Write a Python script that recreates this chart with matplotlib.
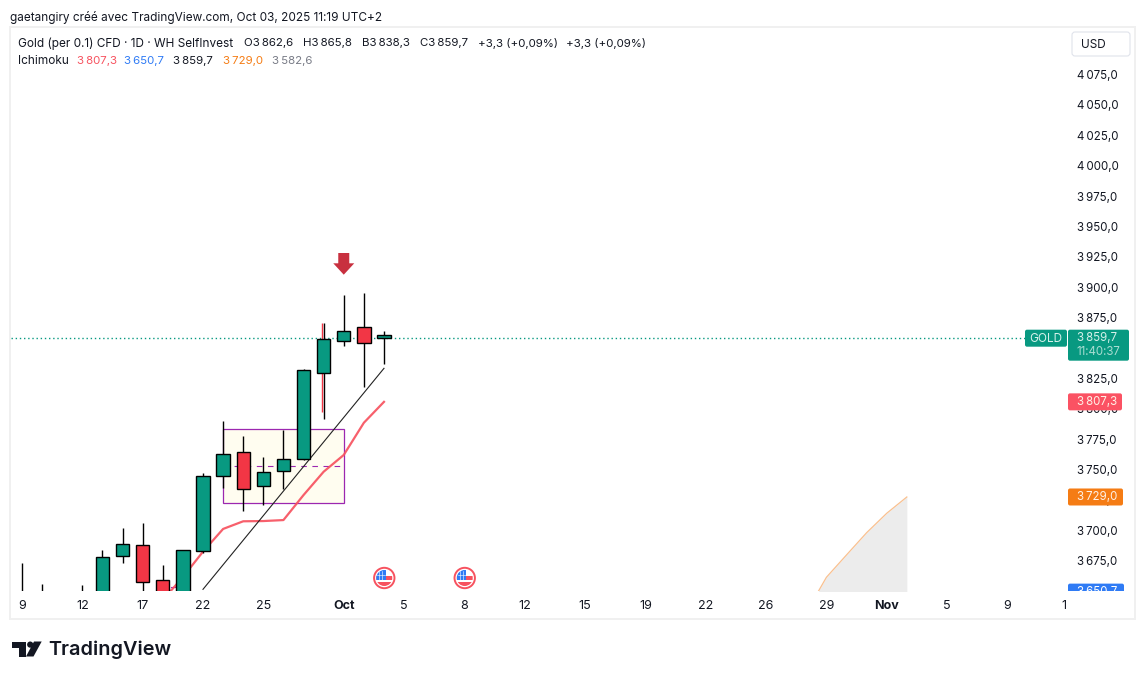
import matplotlib
matplotlib.use("Agg")
import matplotlib.pyplot as plt
from matplotlib.patches import Rectangle, Circle, Polygon, FancyBboxPatch
from matplotlib.transforms import ScaledTranslation

plt.rcParams['font.family'] = ['Inter', 'DejaVu Sans']

WIDTH, HEIGHT = 1145, 679
GREEN = "#089981"
RED = "#f23645"
SOFT_RED = "#f7525f"
ORANGE = "#f57c14"
BLUE = "#2f7bf5"
PURPLE = "#9c27b0"
INK = "#131722"
FONT = 8.5

# daily candles, 9 Sep to 3 Oct (the first ones sit mostly below the visible range)
bar_index = list(range(19))
opens = [3628, 3640, 3632, 3640, 3645, 3680.2, 3689.4, 3660.4, 3640, 3684.8,
         3746, 3765.8, 3738.3, 3750.1, 3760.3, 3830.8, 3857.6, 3868.6, 3859.7]
closes = [3640, 3632, 3640, 3645, 3679.4, 3690, 3659.4, 3640, 3685.1, 3746,
          3764.1, 3735.8, 3749.3, 3760, 3833.3, 3859, 3865.3, 3856, 3862.6]
highs = [3674.4, 3657.4, 3648, 3656.6, 3685.4, 3703.3, 3707.3, 3673, 3685.1, 3748.7,
         3791.3, 3779.3, 3761.9, 3784.3, 3834.3, 3871.9, 3895.3, 3896.9, 3865.8]
lows = [3620, 3620, 3625, 3630, 3640, 3674.3, 3645, 3635, 3635, 3683.3,
        3736.3, 3717.3, 3722.3, 3735.3, 3759.3, 3793.3, 3853.3, 3819.8, 3838.3]

# ichimoku conversion line
conv_index = [7, 8, 9, 10, 11, 12, 13, 14, 15, 16, 17, 18]
conv_values = [3644.2, 3663.1, 3684, 3702.7, 3709, 3709.2, 3710, 3730.6, 3749.8,
               3763.6, 3790.1, 3807.3]

# leading span A, 26 bars ahead, and the flat span B under it
span_index = [39, 40, 41, 42, 43, 44]
span_a = [3634, 3662.9, 3681.3, 3699.6, 3715.6, 3729.0]
span_b = 3582.6

# drawings on the chart
trend_index = [9, 18]
trend_values = [3653, 3834.9]
box_index = [10, 16]
box_prices = [3723.8, 3784.7]
arrow_index = 16
event_index = [18, 22]

last_price = 3859.7
conv_last = 3807.3
kijun_last = 3650.7
lead_last = 3729.0

# 3 850,0 is left out, it is fully under the last price tag
y_ticks = [3675, 3700, 3725, 3750, 3775, 3800, 3825, 3875, 3900, 3925, 3950, 3975,
           4000, 4025, 4050, 4075]
x_ticks = [0, 3, 6, 9, 12, 16, 19, 22, 25, 28, 31, 34, 37, 40, 43, 46, 49, 51.8]
x_labels = ["9", "12", "17", "22", "25", "Oct", "5", "8", "12", "15", "19", "22",
            "26", "29", "Nov", "5", "9", "1"]


def fmt_price(value):
    text = f"{value:,.1f}"
    return text.replace(",", "\u202f").replace(".", ",")


def draw_candles(ax):
    for i in bar_index:
        ax.vlines(i, lows[i], highs[i], color="black", lw=1.0, zorder=4)
    ax.vlines(14.93, 3799, highs[15], color=RED, lw=1.0, zorder=3.5)
    bottoms = [min(o, c) for o, c in zip(opens, closes)]
    heights = [abs(o - c) for o, c in zip(opens, closes)]
    # last bar is drawn green in the picture, as the day is up on the previous close
    colors = [GREEN if c >= o else RED for o, c in zip(opens, closes)]
    ax.bar(bar_index, heights, bottom=bottoms, width=0.66, color=colors,
           edgecolor="black", linewidth=1.0, zorder=5)


def draw_flag(over, x, y):
    over.add_patch(Circle((x, y), 10.2, fc="white", ec=SOFT_RED, lw=1.4))
    inner = Circle((x, y), 8.0, fc="white", ec="none")
    over.add_patch(inner)
    parts = [Rectangle((x - 9, y - 2.5), 18, 4.5, fc=SOFT_RED, ec="none"),
             Rectangle((x - 9, y + 4), 18, 5, fc=SOFT_RED, ec="none"),
             Rectangle((x - 8, y - 9), 9.5, 11, fc=BLUE, ec="none")]
    for part in parts:
        over.add_patch(part)
        part.set_clip_path(inner)
    for gx in (-5, -2):
        over.plot([x + gx] * 2, [y - 7, y + 1.5], color="white", lw=0.4)
    over.plot([x - 7, x + 1], [y - 3, y - 3], color="white", lw=0.4)


def draw_logo(over):
    over.add_patch(Polygon([(12, 641.5), (26, 641.5), (26, 656.5), (19, 656.5),
                            (19, 648), (12, 648)], fc=INK, ec="none"))
    over.add_patch(Circle((30.2, 644.6), 3.1, fc=INK, ec="none"))
    over.add_patch(Polygon([(34, 641.5), (41.7, 641.5), (33.5, 656.5), (26, 656.5)],
                           fc=INK, ec="none"))
    over.text(48.5, 650, "TradingView", fontsize=14.3, fontweight=600, color=INK,
              va="center", ha="left")


def main():
    fig = plt.figure(figsize=(WIDTH / 100, HEIGHT / 100), dpi=100, facecolor="white")
    left, right, top, bottom = 11, 1068, 28, 591
    ax = fig.add_axes([left / WIDTH, 1 - bottom / HEIGHT, (right - left) / WIDTH,
                       (bottom - top) / HEIGHT])
    ax.set_xlim((left - 22) / 20.11, (right - 22) / 20.11)
    ax.set_ylim(3675 + (562.6 - bottom) / 1.215, 3675 + (562.6 - top) / 1.215)
    for spine in ax.spines.values():
        spine.set_visible(False)
    ax.yaxis.tick_right()
    ax.set_yticks(y_ticks, [fmt_price(v) for v in y_ticks])
    ax.set_xticks(x_ticks, x_labels)
    ax.tick_params(axis="y", length=0, pad=6.5, labelsize=8.3, labelcolor=INK)
    ax.tick_params(axis="x", length=0, pad=6.5, labelsize=9, labelcolor=INK)
    # the scale labels sit a little above their price level
    nudge = ScaledTranslation(0, 1.5 / 72, fig.dpi_scale_trans)
    for label in ax.get_yticklabels():
        label.set_transform(label.get_transform() + nudge)
    for label in ax.get_xticklabels():
        if label.get_text() in ("Oct", "Nov"):
            label.set_fontweight("bold")

    # cloud
    ax.fill_between(span_index, span_a, span_b, color="#ececec", lw=0, zorder=1)
    ax.plot(span_index, span_a, color="#f9c08f", lw=0.9, zorder=1.5)

    # consolidation box with its dashed middle
    ax.add_patch(Rectangle((box_index[0], box_prices[0]), box_index[1] - box_index[0],
                           box_prices[1] - box_prices[0], fc="#fffdf0", ec=PURPLE,
                           lw=0.9, zorder=2))
    ax.plot(box_index, [sum(box_prices) / 2] * 2, color=PURPLE, lw=0.8,
            dashes=(5, 5), zorder=2.1)
    ax.plot([7.4, 7.65], [3655.2, 3655.2], color=PURPLE, lw=0.8, zorder=2.1)

    ax.plot(conv_index, conv_values, color=SOFT_RED, lw=1.6, alpha=0.92, zorder=3)
    ax.plot(trend_index, trend_values, color="#222222", lw=0.8, zorder=3.2)
    draw_candles(ax)

    ax.plot([ax.get_xlim()[0], (1025 - 22) / 20.11], [last_price] * 2, color=GREEN,
            lw=1.0, dashes=(1, 2), zorder=2)

    # everything around the chart goes on a pixel overlay
    over = fig.add_axes([0, 0, 1, 1], facecolor="none")
    over.set_xlim(0, WIDTH)
    over.set_ylim(HEIGHT, 0)
    over.axis("off")

    def px(index, price):
        x, y = ax.transData.transform((index, price))
        return x, HEIGHT - y

    over.add_patch(Rectangle((10, 27), 1125, 592, fc="none", ec="#f0f0f0", lw=1.4))

    # down arrow above the 1 Oct candle
    ax_x, _ = px(arrow_index, 3900)
    over.add_patch(Polygon([(ax_x - 5.5, 253), (ax_x + 5.5, 253), (ax_x + 5.5, 263.3),
                            (ax_x + 10.5, 263.3), (ax_x, 274.7), (ax_x - 10.5, 263.3),
                            (ax_x - 5.5, 263.3)], fc="#c8303f", ec="none"))

    for idx in event_index:
        draw_flag(over, px(idx, 3700)[0] + 0.3, 578)

    # header
    over.text(10, 17, "gaetangiry créé avec TradingView.com, Oct 03, 2025 11:19 UTC+2",
              fontsize=FONT, color=INK, va="center")
    head_y, ind_y = 43.5, 60.5
    over.text(18, head_y, "Gold (per 0.1) CFD · 1D · WH SelfInvest", fontsize=FONT,
              color=INK, va="center")
    ohlc = [(244, "O" + fmt_price(3862.6)), (303, "H" + fmt_price(3865.8)),
            (362, "B" + fmt_price(3838.3)), (419.6, "C" + fmt_price(3859.7)),
            (477.7, "+3,3 (+0,09%)"), (565.7, "+3,3 (+0,09%)")]
    for x, text in ohlc:
        over.text(x, head_y, text, fontsize=8.25, color=INK, va="center")
    over.text(18, ind_y, "Ichimoku", fontsize=FONT, color=INK, va="center")
    ichimoku = [(76.6, conv_last, SOFT_RED), (124, kijun_last, BLUE),
                (173, last_price, INK), (222.6, lead_last, ORANGE),
                (271.5, span_b, "#787b86")]
    for x, value, color in ichimoku:
        over.text(x, ind_y, fmt_price(value), fontsize=8.25, color=color, va="center")

    # USD button
    over.add_patch(FancyBboxPatch((1072, 32), 58, 24, boxstyle="round,pad=0,rounding_size=3",
                                  fc="white", ec="#e0e3eb", lw=0.8))
    over.text(1081, 44.5, "USD", fontsize=FONT, color=INK, va="center")

    # price tags
    y_last = px(0, last_price)[1]
    over.add_patch(FancyBboxPatch((1025, y_last - 8.5), 42, 17,
                                  boxstyle="round,pad=0,rounding_size=2", fc=GREEN, ec="none"))
    over.text(1046, y_last + 0.5, "GOLD", fontsize=FONT, color="#d5f0ea", ha="center", va="center")
    over.add_patch(FancyBboxPatch((1068, y_last - 8.5), 61, 31,
                                  boxstyle="round,pad=0,rounding_size=2", fc=GREEN, ec="none"))
    over.text(1077, y_last, fmt_price(last_price), fontsize=8.3, color="#d5f0ea", va="center")
    over.text(1076.5, y_last + 14, "11:40:37", fontsize=8.3, color="#a9ddd2", va="center")

    for value, color, tag_w in [(conv_last, "#fb5263", 54), (lead_last, ORANGE, 55)]:
        y = px(0, value)[1]
        over.add_patch(FancyBboxPatch((1068, y - 8.5), tag_w, 17,
                                      boxstyle="round,pad=0,rounding_size=2", fc=color, ec="none"))
        over.text(1077, y + 0.3, fmt_price(value), fontsize=8.3, color="#fff1e6", va="center")

    # kijun tag is cut off by the time axis
    clip = Rectangle((1060, 570), 80, 21, transform=over.transData)
    y = px(0, kijun_last)[1]
    tag = FancyBboxPatch((1068, y - 8.5), 56, 17, boxstyle="round,pad=0,rounding_size=2",
                         fc=BLUE, ec="none")
    over.add_patch(tag)
    tag.set_clip_path(clip)
    tag_text = over.text(1077, y + 0.3, fmt_price(kijun_last), fontsize=8.3, color="white",
                         va="center", clip_on=True)
    tag_text.set_clip_path(clip)

    draw_logo(over)
    fig.savefig("out.png", dpi=100, facecolor="white")


if __name__ == "__main__":
    main()
